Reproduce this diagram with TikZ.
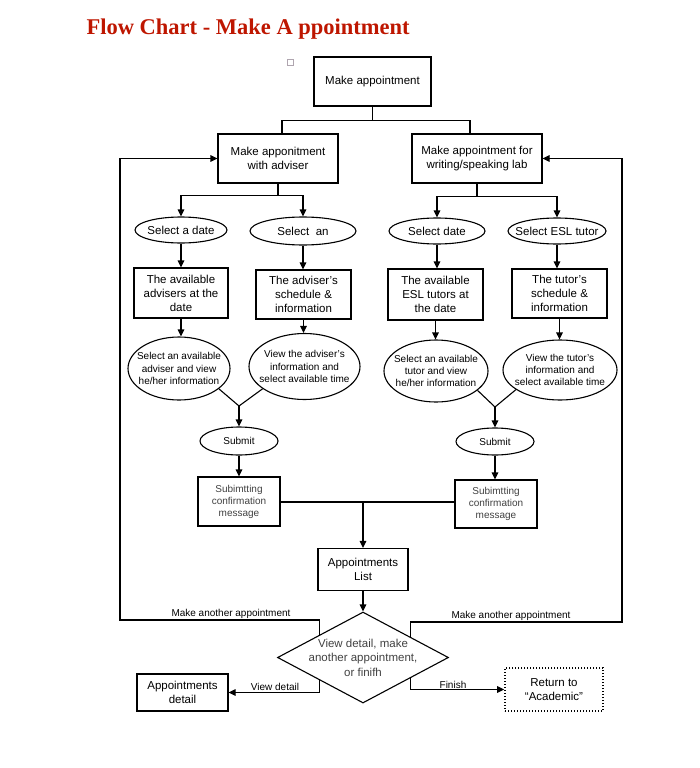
\documentclass[tikz,border=0pt]{standalone}
\usepackage{fontspec}
\setmainfont{Liberation Sans}
\newfontfamily\titlefont{Liberation Serif}
\usetikzlibrary{shapes.geometric,arrows.meta,calc}

\definecolor{titlered}{RGB}{190,22,0}
\definecolor{graytext}{RGB}{65,65,65}
\definecolor{markgray}{RGB}{175,165,175}

\tikzset{every picture/.style={line width=1.1pt}}
\tikzset{
  procbox/.style={draw, rectangle, align=center, inner sep=1pt, font=\fontsize{11.5}{14}\selectfont},
  choicebox/.style={draw, ellipse, align=center, inner sep=-8pt, font=\fontsize{10}{12.3}\selectfont},
  choicebig/.style={choicebox, font=\fontsize{11.5}{14}\selectfont},
  notebox/.style={procbox, text=graytext, font=\fontsize{10}{12}\selectfont},
  arr/.style={-{Triangle[length=7pt,width=6.5pt]}},
  loopnote/.style={anchor=south, inner sep=0.8pt, font=\fontsize{10}{12}\selectfont},
}

\begin{document}
\begin{tikzpicture}[x=1pt,y=1pt,yscale=-1,xscale=1]
\useasboundingbox (0,0) rectangle (700,768);

% Text Node
\draw (86,35) node [anchor=base west, inner sep=0pt, font=\titlefont\fontsize{22.5}{27}\selectfont\bfseries, text=titlered] (title) {Flow Chart - Make A ppointment};
%Shape: Square
\draw (290,62) node [draw=markgray, line width=0.6pt, minimum size=6, inner sep=0pt] (blank) {};

%Shape: Rectangle
\draw (372.5,81.5) node [procbox, minimum width=117, minimum height=49] (start) {Make appointment};
%Shape: Rectangle
\draw (278,158.5) node [procbox, minimum width=120, minimum height=49] (adv) {Make apponitment\\with adviser};
%Shape: Rectangle
\draw (477,158.5) node [procbox, minimum width=130, minimum height=49] (lab) {Make appointment for\\writing/speaking lab};

%Shape: Ellipse
\draw (181,230) node [choicebig, minimum width=92, minimum height=26] (date1) {Select a date};
%Shape: Ellipse
\draw (303,231) node [choicebig, minimum width=106, minimum height=28] (pick1) {Select\ \ an};
%Shape: Ellipse
\draw (437,231) node [choicebig, minimum width=96, minimum height=26] (date2) {Select date};
%Shape: Ellipse
\draw (557,231) node [choicebig, minimum width=98, minimum height=26] (pick2) {Select ESL tutor};

%Shape: Rectangle
\draw (181,293) node [procbox, minimum width=94, minimum height=50] (list1) {The available\\advisers at the\\date};
%Shape: Rectangle
\draw (303.5,294.5) node [procbox, minimum width=95, minimum height=49] (info1) {The adviser's\\schedule \&\\information};
%Shape: Rectangle
\draw (435.5,294.5) node [procbox, minimum width=95, minimum height=51] (list2) {The available\\ESL tutors at\\the date};
%Shape: Rectangle
\draw (559.5,293.5) node [procbox, minimum width=95, minimum height=49] (info2) {The tutor's\\schedule \&\\information};

%Shape: Ellipse
\draw (179,368.5) node [choicebox, minimum width=102, minimum height=63] (sel1) {Select an available\\adviser and view\\he/her information};
%Shape: Ellipse
\draw (304.5,366.5) node [choicebox, minimum width=111, minimum height=66] (view1) {View the adviser's\\information and\\select available time};
%Shape: Ellipse
\draw (436,371) node [choicebox, minimum width=104, minimum height=62] (sel2) {Select an available\\tutor and view\\he/her information};
%Shape: Ellipse
\draw (560,370) node [choicebox, minimum width=114, minimum height=60] (view2) {View the tutor's\\information and\\select available time};

%Shape: Ellipse
\draw (239,441) node [choicebox, minimum width=78, minimum height=28] (sub1) {Submit};
%Shape: Ellipse
\draw (495,441.5) node [choicebox, minimum width=78, minimum height=27] (sub2) {Submit};

%Shape: Rectangle
\draw (239,501.5) node [notebox, minimum width=82, minimum height=49] (conf1) {Subimtting\\confirmation\\message};
%Shape: Rectangle
\draw (496,504) node [notebox, minimum width=82, minimum height=48] (conf2) {Subimtting\\confirmation\\message};

%Shape: Rectangle
\draw (363,569.5) node [procbox, minimum width=90, minimum height=42] (applist) {Appointments\\List};
%Shape: Diamond
\draw (363,657.5) node [draw, diamond, minimum width=171, minimum height=91, inner sep=0pt] (dec) {};
% Text Node
\draw (dec.center) node [align=center, inner sep=0pt, text=graytext, font=\fontsize{11.5}{14.5}\selectfont] (dectext) {View detail, make\\another appointment,\\or finifh};
%Shape: Rectangle
\draw (182.5,692.5) node [procbox, minimum width=91, minimum height=37] (detail) {Appointments\\detail};
%Shape: Rectangle
\draw (554,689.5) node [procbox, line width=1.6pt, dash pattern=on 1.4pt off 1.6pt, minimum width=98, minimum height=43] (ret) {Return to\\“Academic"};

%Straight Lines
\draw (start.south) -- ++(0,13.5) coordinate (topfork);
\draw ([xshift=4]adv.north) |- (topfork) -| ([xshift=-7]lab.north);
%Straight Lines
\draw (adv.south) -- ++(0,12) coordinate (advfork);
\draw [arr] (advfork) -| (date1.north);
\draw [arr] (advfork) -| (pick1.north);
\draw (lab.south) -- ++(0,12.5) coordinate (labfork);
\draw [arr] (labfork) -| (date2.north);
\draw [arr] (labfork) -| (pick2.north);
%Straight Lines
\draw [arr] (date1.south) -- (date1.south |- list1.north);
\draw [arr] (pick1.south) -- (pick1.south |- info1.north);
\draw [arr] (date2.south) -- (date2.south |- list2.north);
\draw [arr] (pick2.south) -- (pick2.south |- info2.north);
%Straight Lines
\draw [arr] (list1.south) -- (list1.south |- sel1.north);
\draw [arr] (info1.south) -- (info1.south |- view1.north);
\draw [arr] (list2.south) -- (list2.south |- sel2.north);
\draw [arr] (info2.south) -- (info2.south |- view2.north);
%Straight Lines
\coordinate (join1) at (239,406);
\draw (sel1.-27) -- (join1) -- (view1.-152);
\draw [arr] (join1) -- (sub1.north);
\coordinate (join2) at (495,407);
\draw (sel2.-25) -- (join2) -- (view2.-156);
\draw [arr] (join2) -- (sub2.north);
%Straight Lines
\draw [arr] (sub1.south) -- (sub1.south |- conf1.north);
\draw [arr] (sub2.south) -- (sub2.south |- conf2.north);
\coordinate (listfork) at (363,502);
\draw (conf1.east |- listfork) -- (conf2.west |- listfork);
\draw [arr] (listfork) -- (applist.north);
\draw [arr] (applist.south) -- (dec.north);

%Straight Lines
\coordinate (leftturn) at (120,620);
\draw [arr] ($(dec.west)!0.49!(dec.north)$) |- (leftturn) |- (adv.west);
\coordinate (rightturn) at (622,622);
\draw [arr] ($(dec.north)!0.55!(dec.east)$) |- (rightturn) |- (lab.east);
\draw [arr] ($(dec.west)!0.49!(dec.south)$) |- (detail.east);
\draw [arr] ($(dec.south)!0.55!(dec.east)$) |- (ret.west);

% Text Node
\draw (231,620) node [loopnote] (againl) {Make another appointment};
% Text Node
\draw (511,622) node [loopnote] (againr) {Make another appointment};
% Text Node
\draw (275,692) node [loopnote] (viewnote) {View detail};
% Text Node
\draw (453,690) node [loopnote] (finnote) {Finish};

\end{tikzpicture}
\end{document}
